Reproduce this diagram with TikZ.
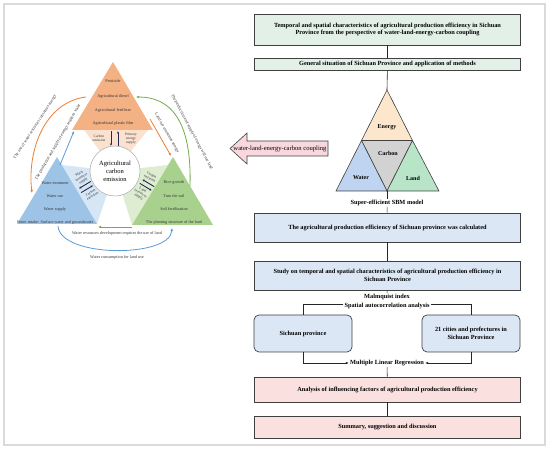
\documentclass[tikz,border=0pt]{standalone}
\usepackage{fontspec}
\setmainfont{Liberation Serif}
\usepackage{tikz}
\usetikzlibrary{arrows.meta,positioning,calc}
\definecolor{FrameGray}{RGB}{218,218,218}
\definecolor{EdgeGray}{RGB}{64,64,64}
\definecolor{EnOrange}{RGB}{244,177,131}
\definecolor{EnLight}{RGB}{251,226,208}
\definecolor{WaBlue}{RGB}{157,195,230}
\definecolor{WaLight}{RGB}{214,230,245}
\definecolor{LaGreen}{RGB}{169,209,142}
\definecolor{LaLight}{RGB}{222,237,210}
\definecolor{ArcOrange}{RGB}{237,125,49}
\definecolor{ArcBlue}{RGB}{91,155,213}
\definecolor{ArcGreen}{RGB}{112,173,71}
\definecolor{DarkNavy}{RGB}{31,45,80}
\definecolor{BoxMint}{RGB}{226,240,232}
\definecolor{BoxBlue}{RGB}{220,231,245}
\definecolor{BoxPink}{RGB}{250,225,224}
\definecolor{CplPink}{RGB}{248,216,222}
\definecolor{TriPeach}{RGB}{252,231,204}
\definecolor{TriGray}{RGB}{210,210,210}
\definecolor{TriBlue}{RGB}{190,212,240}
\definecolor{TriGreen}{RGB}{184,228,200}

\begin{document}
\begin{tikzpicture}[x=1pt,y=-1pt,
    smalltxt/.style={font=\fontsize{4.2}{4.8}\selectfont, text=black!80, inner sep=0.5pt, align=center},
    striptxt/.style={font=\fontsize{3.6}{4}\selectfont, text=black!80, inner sep=0.2pt, align=center},
    flowbox/.style={draw=EdgeGray, line width=0.7pt, minimum width=266pt, font=\fontsize{6.3}{7.8}\selectfont\bfseries, align=center, inner sep=1pt},
    roundbox/.style={flowbox, rounded corners=5pt, minimum width=98pt, minimum height=37pt, fill=BoxBlue},
    flowtxt/.style={font=\fontsize{6.3}{7.5}\selectfont\bfseries, inner sep=1pt},
    tritxt/.style={font=\fontsize{6}{7}\selectfont\bfseries, inner sep=0pt},
    link/.style={draw=black!85, line width=0.6pt},
    darr/.style={-{Latex[length=2.4pt,width=2.2pt]}, line width=0.9pt, DarkNavy},
    relarr/.style={line width=0.8pt, -{Latex[length=3pt,width=2.6pt]}}]
  \useasboundingbox (0,0) rectangle (550,449);
  \draw[FrameGray, line width=1.4pt] (4,4) rectangle (545,445);

  % left: carbon emission diagram
  \fill[EnLight] (84,130) -- (148,130) -- (115,171) -- cycle;
  \fill[WaLight] (62,165) -- (97,224) -- (115,171) -- cycle;
  \fill[LaLight] (168,165) -- (132,225) -- (115,171) -- cycle;
  \fill[EnOrange] (113,62) -- (72,130) -- (153,130) -- cycle;
  \fill[WaBlue] (57,157) -- (17,224) -- (97,224) -- cycle;
  \fill[LaGreen] (173,157) -- (132,225) -- (213,225) -- cycle;
  \node[circle, draw=black!30, fill=white, line width=0.6pt, minimum size=50pt, inner sep=0pt,
        font=\fontsize{6.5}{8}\selectfont, align=center] (ace) at (115,171) {Agricultural\\carbon\\emission};

  \foreach \y/\t in {81/Pesticide,96/Agricultural diesel,110/Agricultural fertilizer,123/Agricultural plastic film}
    \node[smalltxt] (en\y) at (113,\y) {\t};
  \foreach \y/\t in {183/Water treatment,196/Water use,209/Water supply,222/Water intake: Surface water and groundwater}
    \node[smalltxt] (wa\y) at (55,\y) {\t};
  \foreach \y/\t in {182/Rice growth,196/Turn the soil,209/Soil fertilization,222/The planting structure of the land}
    \node[smalltxt] (la\y) at (174,\y) {\t};

  % exchanges with the circle
  \draw[darr] (111,131) -- (111,146);
  \draw[darr] (118,146) -- (118,131);
  \node[striptxt] (ceE) at (99,138) {Carbon\\emission};
  \node[striptxt] (pes) at (131,139) {Primary\\energy\\supply};
  \begin{scope}[shift={(86,187)}, rotate=31]
    \draw[darr] (7,-2.3) -- (-7,-2.3);
    \draw[darr] (-7,2.3) -- (7,2.3);
    \node[striptxt, rotate=31] (wrs) at (1,-10.5) {Water\\resources\\supply};
    \node[striptxt, rotate=31] (ceW) at (1,9) {Carbon\\emission};
  \end{scope}
  \begin{scope}[shift={(147,185)}, rotate=-31]
    \draw[darr] (7,-2.3) -- (-7,-2.3);
    \draw[darr] (-7,2.3) -- (7,2.3);
    \node[striptxt, rotate=-31] (ceL) at (-1,-9) {Carbon\\emission};
    \node[striptxt, rotate=-31] (lrs) at (-1,10.5) {Land\\resources\\supply};
  \end{scope}

  % relations between resources
  \draw[relarr, ArcOrange] (86,97) .. controls (45,102) and (27,150) .. (32,193);
  \node[smalltxt, rotate=57] (usew) at (35,127) {The use of water resources consumes energy};
  \draw[relarr, ArcBlue] (60,165) -- (74,131);
  \node[smalltxt, rotate=60] (eneq) at (58,142) {The production and supply of energy requires water};
  \draw[relarr, ArcOrange] (150,119) -- (171,156);
  \node[smalltxt, rotate=-60] (lue) at (167,133) {Land use consumes energy};
  \draw[relarr, ArcGreen] (190,186) .. controls (192,120) and (170,97) .. (136,97);
  \node[smalltxt, rotate=-62] (enland) at (192,132) {The production and supply of energy will use land};
  \draw[relarr, ArcGreen] (132,227) -- (98,227);
  \node[smalltxt] (wrd) at (117,233) {Water resources development requires the use of land};
  \draw[relarr, ArcBlue] (58,226) .. controls (60,258) and (170,258) .. (172,228);
  \node[smalltxt] (wcl) at (117,257) {Water consumption for land use};

  % coupling arrow
  \draw[draw=EdgeGray, fill=CplPink, line width=0.6pt] (328,141) -- (247,141) -- (247,133) -- (230,148.5)
    -- (247,164) -- (247,156) -- (328,156) -- cycle;
  \node[font=\fontsize{6.6}{8}\selectfont, inner sep=0pt] (cpl) at (280,148.5) {water-land-energy-carbon coupling};

  % right: flow chart
  \node[flowbox, fill=BoxMint, minimum height=31pt] (topic) at (387.5,29.5)
    {Temporal and spatial characteristics of agricultural production efficiency in Sichuan\\Province from the perspective of water-land-energy-carbon coupling};
  \node[flowbox, fill=BoxMint, minimum height=12pt] (general) at (387.5,64)
    {General situation of Sichuan Province and application of methods};

  \coordinate (wlecT) at (387,90);
  \coordinate (wlecB) at (387,191);
  \filldraw[draw=EdgeGray, fill=TriPeach, line width=0.6pt] (wlecT) -- (361.5,140.5) -- (412.5,140.5) -- cycle;
  \filldraw[draw=EdgeGray, fill=TriGray, line width=0.6pt] (361.5,140.5) -- (412.5,140.5) -- (wlecB) -- cycle;
  \filldraw[draw=EdgeGray, fill=TriBlue, line width=0.6pt] (361.5,140.5) -- (336,191) -- (wlecB) -- cycle;
  \filldraw[draw=EdgeGray, fill=TriGreen, line width=0.6pt] (412.5,140.5) -- (wlecB) -- (439,191) -- cycle;
  \node[tritxt] (energy) at (387,127) {Energy};
  \node[tritxt] (carbon) at (388,153) {Carbon};
  \node[tritxt] (water) at (361,178) {Water};
  \node[tritxt] (land) at (413,178) {Land};

  \node[flowtxt] (sbm) at (387,203) {Super-efficient SBM model};
  \node[flowbox, fill=BoxBlue, minimum height=29pt] (calc) at (387.5,227.5)
    {The agricultural production efficiency of Sichuan province was calculated};
  \node[flowbox, fill=BoxBlue, minimum height=29pt] (study) at (387.5,275.5)
    {Study on temporal and spatial characteristics of agricultural production efficiency in\\Sichuan Province};
  \node[flowtxt] (malm) at (387,297) {Malmquist index};
  \node[flowtxt] (spat) at (387,306) {Spatial autocorrelation analysis};
  \node[roundbox] (prov) at (303,333.5) {Sichuan province};
  \node[roundbox] (city) at (471,333.5) {21 cities and prefectures in\\Sichuan Province};
  \node[flowtxt] (mlr) at (387,363) {Multiple Linear Regression};
  \node[flowbox, fill=BoxPink, minimum height=25pt] (factor) at (387.5,389.5)
    {Analysis of influencing factors of agricultural production efficiency};
  \node[flowbox, fill=BoxPink, minimum height=22pt] (summary) at (387.5,427)
    {Summary, suggestion and discussion};

  \draw[link] (topic) -- (general);
  \draw[link] (general) -- (wlecT);
  \draw[link] (wlecB) -- (sbm);
  \draw[link] (sbm) -- (calc);
  \draw[link] (calc) -- (study);
  \draw[link] (study) -- (malm);
  \draw[link] ([yshift=2pt]spat.west) -| (prov);
  \draw[link] ([yshift=2pt]spat.east) -| (city);
  \draw[link, -{Latex[length=3pt,width=2.4pt]}] (prov) |- (mlr);
  \draw[link, -{Latex[length=3pt,width=2.4pt]}] (city) |- (mlr);
  \draw[link] (mlr) -- (factor);
  \draw[link] (factor) -- (summary);
\end{tikzpicture}
\end{document}
